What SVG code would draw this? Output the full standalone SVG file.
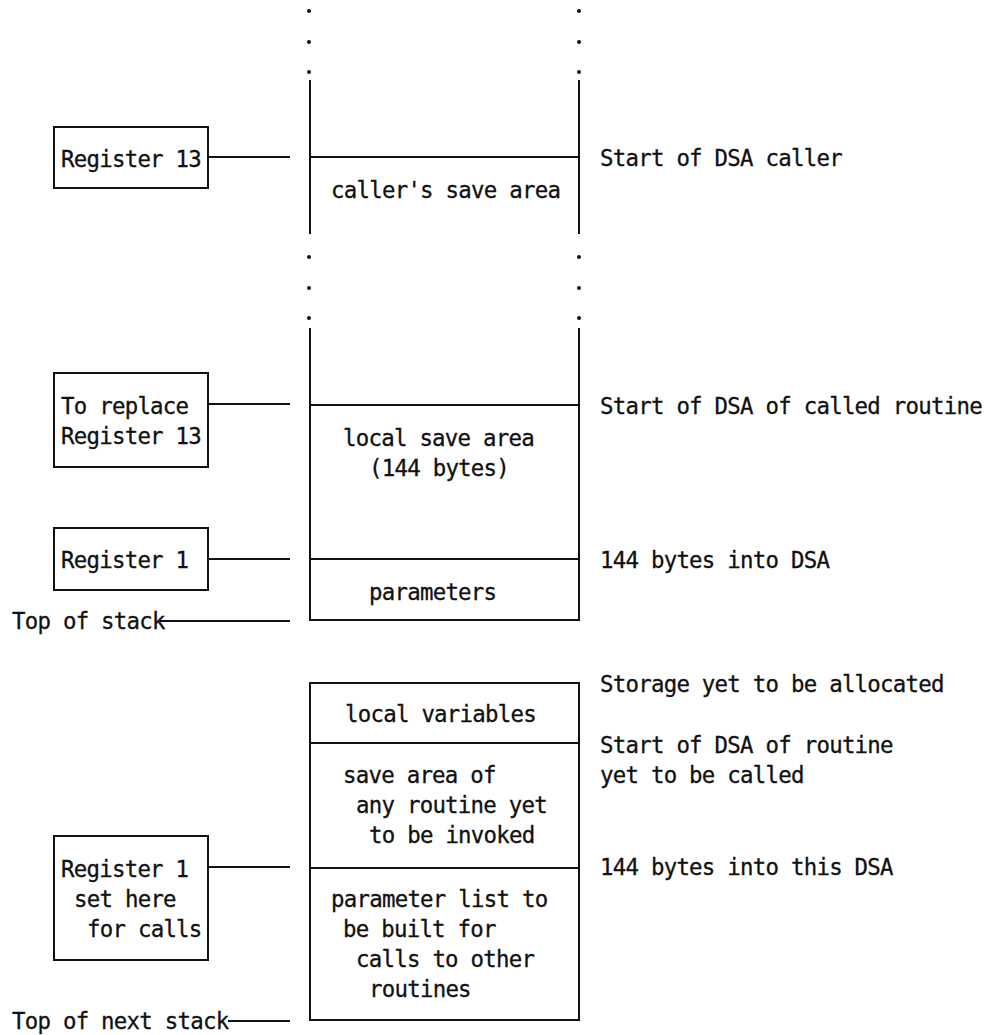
<svg xmlns="http://www.w3.org/2000/svg" width="988" height="1035" viewBox="0 0 988 1035">
<style>
  text { font-family: "DejaVu Sans Mono", "Liberation Mono", monospace; font-size: 22.4px; letter-spacing: -0.75px; fill: #111; stroke: #111; stroke-width: 0.3px; }
  .ln { stroke: #111; stroke-width: 2; fill: none; }
  .box { stroke: #111; stroke-width: 2; fill: #fff; }
  .dot { fill: #111; }
</style>
<rect width="988" height="1035" fill="#fff"/>

<g id="stack-column">
  <circle class="dot" cx="309" cy="11" r="2"/><circle class="dot" cx="579" cy="11" r="2"/>
  <circle class="dot" cx="309" cy="42" r="2"/><circle class="dot" cx="579" cy="42" r="2"/>
  <circle class="dot" cx="309" cy="72" r="2"/><circle class="dot" cx="579" cy="72" r="2"/>
  <line class="ln" x1="310" y1="80" x2="310" y2="234"/>
  <line class="ln" x1="579" y1="80" x2="579" y2="234"/>
  <line class="ln" x1="310" y1="157" x2="579" y2="157"/>
  <circle class="dot" cx="309" cy="257" r="2"/><circle class="dot" cx="579" cy="257" r="2"/>
  <circle class="dot" cx="309" cy="288" r="2"/><circle class="dot" cx="579" cy="288" r="2"/>
  <circle class="dot" cx="309" cy="318" r="2"/><circle class="dot" cx="579" cy="318" r="2"/>
  <line class="ln" x1="310" y1="328" x2="310" y2="621"/>
  <line class="ln" x1="579" y1="328" x2="579" y2="621"/>
  <line class="ln" x1="310" y1="405" x2="579" y2="405"/>
  <line class="ln" x1="310" y1="559" x2="579" y2="559"/>
  <line class="ln" x1="309" y1="620" x2="580" y2="620"/>
  <rect class="ln" x="310" y="683" width="269" height="337"/>
  <line class="ln" x1="310" y1="743" x2="579" y2="743"/>
  <line class="ln" x1="310" y1="868" x2="579" y2="868"/>
</g>

<g id="column-labels">
  <text x="331" y="198">caller's save area</text>
  <text x="343" y="446">local save area</text>
  <text x="369" y="476">(144 bytes)</text>
  <text x="369" y="600">parameters</text>
  <text x="345" y="722">local variables</text>
  <text x="343" y="783">save area of</text>
  <text x="356" y="813">any routine yet</text>
  <text x="369" y="843">to be invoked</text>
  <text x="331" y="907">parameter list to</text>
  <text x="343" y="937">be built for</text>
  <text x="356" y="967">calls to other</text>
  <text x="369" y="997">routines</text>
</g>

<g id="right-labels">
  <text x="600" y="166">Start of DSA caller</text>
  <text x="600" y="414">Start of DSA of called routine</text>
  <text x="600" y="568">144 bytes into DSA</text>
  <text x="600" y="692">Storage yet to be allocated</text>
  <text x="600" y="753">Start of DSA of routine</text>
  <text x="600" y="783">yet to be called</text>
  <text x="600" y="875">144 bytes into this DSA</text>
</g>

<g id="node-register13">
  <rect class="box" x="54" y="127" width="154" height="61"/>
  <text x="61" y="167">Register 13</text>
</g>

<g id="node-replace13">
  <rect class="box" x="54" y="373" width="154" height="94"/>
  <text x="61" y="414">To replace</text>
  <text x="61" y="444">Register 13</text>
</g>

<g id="node-register1">
  <rect class="box" x="54" y="528" width="154" height="62"/>
  <text x="61" y="568">Register 1</text>
</g>

<g id="node-register1-calls">
  <rect class="box" x="54" y="836" width="154" height="124"/>
  <text x="61" y="877">Register 1</text>
  <text x="74" y="907">set here</text>
  <text x="87" y="937">for calls</text>
</g>

<g id="label-top-of-stack">
  <text x="12" y="629">Top of stack</text>
</g>
<g id="label-top-of-next-stack">
  <text x="12" y="1029">Top of next stack</text>
</g>

<g id="connectors">
  <line class="ln" x1="208" y1="157" x2="290" y2="157"/>
  <line class="ln" x1="208" y1="404" x2="290" y2="404"/>
  <line class="ln" x1="208" y1="559" x2="290" y2="559"/>
  <line class="ln" x1="160" y1="621" x2="290" y2="621"/>
  <line class="ln" x1="208" y1="867" x2="290" y2="867"/>
  <line class="ln" x1="228" y1="1021" x2="290" y2="1021"/>
</g>
</svg>
